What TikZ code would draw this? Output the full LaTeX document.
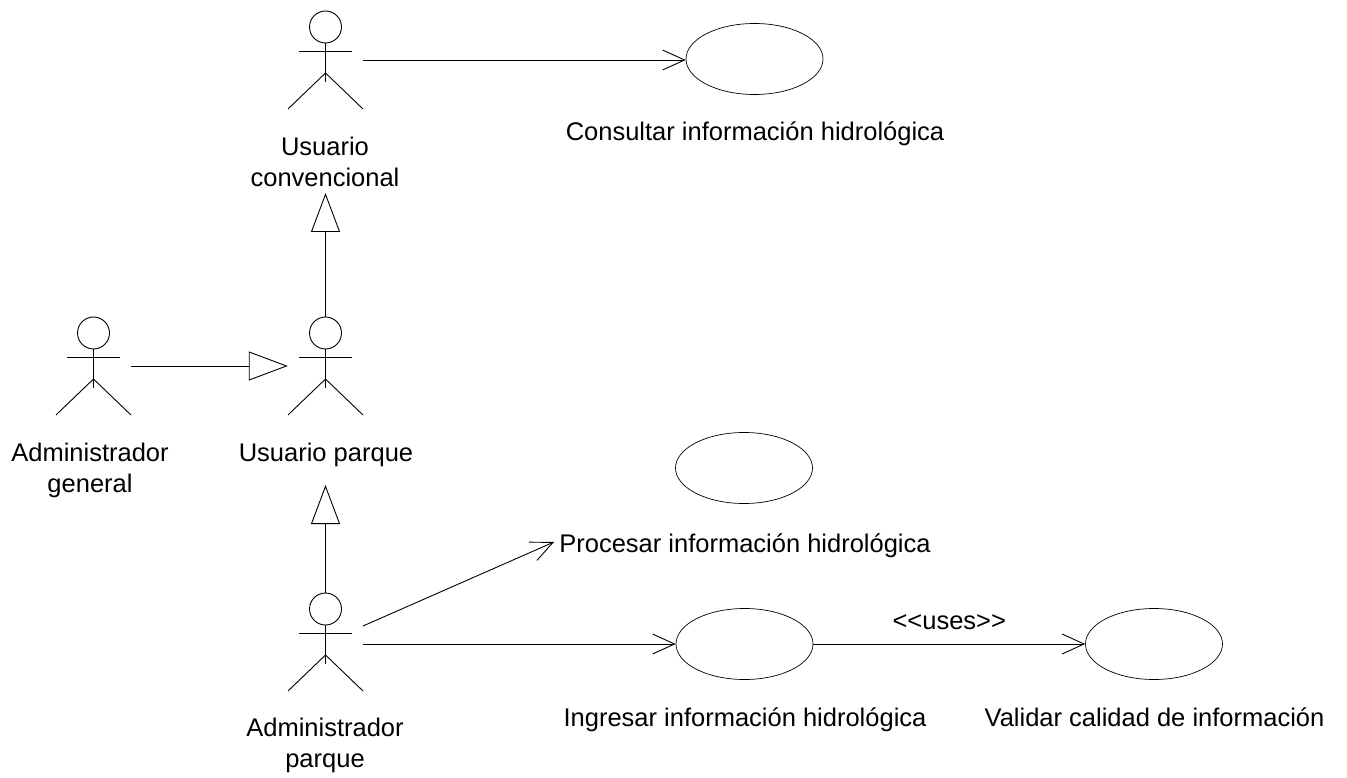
\documentclass[tikz,border=0pt]{standalone}
\usepackage{fontspec}
\setmainfont{Liberation Sans}
\usetikzlibrary{shapes.geometric,arrows.meta}
\begin{document}
\begin{tikzpicture}[x=1pt,y=-1pt,
  every node/.style={font=\fontsize{25.5}{31}\selectfont},
  actor/.style={minimum width=75pt,minimum height=98pt,inner sep=0pt},
  lbl/.style={anchor=base,align=center,inner sep=0pt},
  usecase/.style={draw,ellipse,minimum width=137pt,minimum height=71pt,inner sep=0pt,line width=0.7pt},
  assoc/.style={line width=0.9pt,-{Straight Barb[length=22pt,width=20pt,line width=0.9pt]}},
  gen/.style={line width=0.9pt,-{Triangle[open,length=39pt,width=29pt,line width=0.9pt]}},
  stick/.style={line width=0.9pt}
]
\useasboundingbox (0,0) rectangle (1347,778);
% actors: node center; head center is 33 above center
\newcommand{\stickman}[1]{%
  \draw[stick] ([yshift=33pt]#1.center) circle (16pt);
  \draw[stick] ([yshift=17pt]#1.center) -- ([yshift=-22pt]#1.center);
  \draw[stick] ([xshift=-26.5pt,yshift=9pt]#1.center) -- ([xshift=26.5pt,yshift=9pt]#1.center);
  \draw[stick] ([xshift=-37.5pt,yshift=-49pt]#1.center) -- ([yshift=-13pt]#1.center) -- ([xshift=37.5pt,yshift=-49pt]#1.center);
}
\node[actor] (uc) at (325.5,60) {};
\node[actor] (up) at (325.5,366) {};
\node[actor] (ag) at (93.5,366) {};
\node[actor] (ap) at (325.5,642) {};
\stickman{uc}\stickman{up}\stickman{ag}\stickman{ap}

\node[lbl] (ucl) at (325,187) {Usuario\\convencional};
\node[lbl] (agl) at (90,492) {Administrador\\general};
\node[lbl] (upl) at (326,461) {Usuario parque};
\node[lbl] (apl) at (325,767) {Administrador\\parque};

% use cases
\node[usecase] (c1) at (754.5,59) {};
\node[usecase] (c2) at (744,468) {};
\node[usecase] (c3) at (744.5,644) {};
\node[usecase] (c4) at (1154,644) {};
\node[lbl] (c1l) at (755,141) {Consultar información hidrológica};
\node[lbl] (c2l) at (745,552) {Procesar información hidrológica};
\node[lbl] (c3l) at (745,726) {Ingresar información hidrológica};
\node[lbl] (c4l) at (1154.5,726) {Validar calidad de información};

% connectors
\coordinate (g1) at (325.5,193);
\coordinate (g2) at (325.5,485);
\coordinate (p1) at (363,626);
\coordinate (p2) at (554,542);
\draw[assoc] (uc.east) -- (uc.east -| c1.west);
\draw[gen] (up.north) -- (g1);
\draw[gen] (ag.east) -- (up.west);
\draw[gen] (ap.north) -- (g2);
\draw[assoc] (p1) -- (p2);
\draw[assoc] (ap.east |- c3.west) -- (c3.west);
\draw[assoc] (c3.east) -- node[above=14pt,inner sep=0pt] (uses) {<{}<uses>{}>} (c4.west);
\end{tikzpicture}
\end{document}
